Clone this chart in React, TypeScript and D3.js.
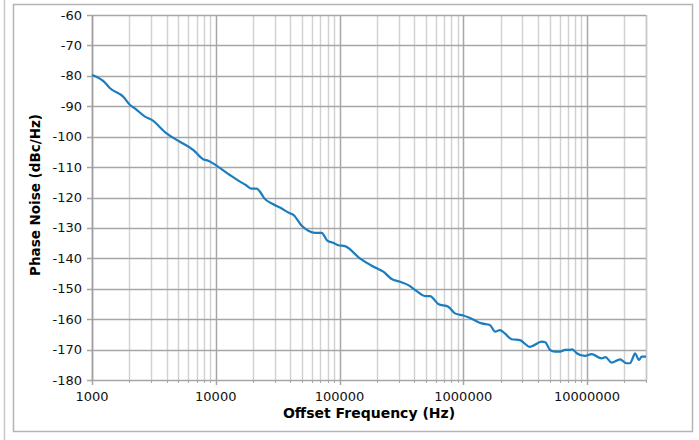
import React from "react";
import * as d3 from "d3";

const freqs = [1000, 1250, 1400, 1790, 2030, 2220, 2680, 3040, 4000, 5100, 6600, 7900, 8700, 10200, 13000, 15700, 17500, 19500, 21400, 22800, 24500, 29200, 33000, 39800, 42400, 49500, 56000, 63400, 71800, 79700, 89100, 97800, 110700, 146000, 187000, 226000, 264000, 308000, 360000, 421000, 491000, 539000, 628000, 757000, 857000, 1000000, 1135000, 1410000, 1640000, 1810000, 1980000, 2170000, 2460000, 2870000, 3460000, 4300000, 4600000, 5020000, 5510000, 6050000, 6640000, 7290000, 7600000, 8260000, 9640000, 10900000, 13100000, 14100000, 15800000, 18500000, 20800000, 22200000, 23700000, 24400000, 26300000, 27700000, 30000000];
const noise = [-79.7, -81.9, -84.1, -86.9, -89.6, -90.7, -93.4, -94.5, -98.9, -101.6, -104.4, -107.4, -107.9, -109.6, -112.6, -114.8, -115.9, -117.1, -117.1, -118.1, -120.1, -122.2, -123.3, -125.2, -125.7, -129.3, -130.9, -131.6, -131.6, -134.2, -134.9, -135.7, -136.0, -140.0, -142.7, -144.4, -146.8, -147.7, -148.8, -150.8, -152.4, -152.4, -155.0, -155.9, -158.1, -158.8, -159.6, -161.4, -161.9, -164.1, -163.6, -164.7, -166.6, -166.9, -169.1, -167.4, -167.6, -170.1, -170.7, -170.7, -170.1, -170.1, -169.9, -171.2, -172.1, -171.5, -172.9, -172.5, -174.3, -173.2, -174.5, -174.5, -172.3, -171.2, -173.4, -172.3, -172.3];

const yTicks = [-60, -70, -80, -90, -100, -110, -120, -130, -140, -150, -160, -170, -180];
const xMajor = [1000, 10000, 100000, 1000000, 10000000];
const xTickLabels = ["1000", "10000", "100000", "1000000", "10000000"];
const yTitle = "Phase Noise (dBc/Hz)";
const xTitle = "Offset Frequency (Hz)";

const W = 699, H = 440;
const L = 92, T = 15, B = 380;

export default function App() {
  const x = d3.scaleLog().domain([1000, 1000 * Math.pow(10, (646 - L) / 123.75)]).range([L, 646]);
  const y = d3.scaleLinear().domain([-180, -60]).range([B, T]);
  const R = 646;
  const minors: number[] = [];
  for (let d = 1000; d < 30000000; d *= 10) {
    for (let k = 2; k <= 9; k++) {
      const v = d * k;
      if (x(v) <= R + 0.5) minors.push(v);
    }
  }
  const line = d3.line<number>().x((_, i) => x(freqs[i])).y((v) => y(v)).curve(d3.curveMonotoneX);
  const font = "Verdana, 'DejaVu Sans', sans-serif";
  return (
    <svg width={W} height={H} style={{ position: "absolute", left: 0, top: 0 }} fontFamily={font}>
      <rect x={0} y={0} width={W} height={H} fill="#fff" />
      <line x1={4.5} y1={0} x2={4.5} y2={H} stroke="#c8c8c8" strokeWidth={1.5} />
      <rect x={13.5} y={4.5} width={679} height={427} fill="#fff" stroke="#b4b4b4" strokeWidth={1.5} />
      {minors.map((v) => (
        <line key={"m" + v} x1={Math.round(x(v)) + 0.5} x2={Math.round(x(v)) + 0.5} y1={T} y2={B} stroke="#d2d2d2" strokeWidth={1.5} />
      ))}
      {xMajor.map((v) => (
        <line key={"M" + v} x1={Math.round(x(v)) + 0.5} x2={Math.round(x(v)) + 0.5} y1={T} y2={B + 5} stroke="#a6a6a6" strokeWidth={1.5} />
      ))}
      {minors.map((v) => (
        <line key={"mt" + v} x1={Math.round(x(v)) + 0.5} x2={Math.round(x(v)) + 0.5} y1={B} y2={B + 3} stroke="#a6a6a6" strokeWidth={1} />
      ))}
      <line x1={R + 0.5} x2={R + 0.5} y1={T} y2={B} stroke="#c8c8c8" strokeWidth={1.5} />
      {yTicks.map((v) => (
        <g key={"y" + v}>
          <line x1={L - 5} x2={R} y1={Math.round(y(v)) + 0.5} y2={Math.round(y(v)) + 0.5} stroke="#a6a6a6" strokeWidth={1.5} />
          <text x={82} y={y(v) + 4.5} textAnchor="end" fontSize={13} fill="#111">{v}</text>
        </g>
      ))}
      <line x1={L + 0.5} x2={L + 0.5} y1={T} y2={B} stroke="#a0a0a0" strokeWidth={1.5} />
      {xMajor.map((v, i) => (
        <text key={"xl" + v} x={x(v)} y={401} textAnchor="middle" fontSize={13} fill="#111">{xTickLabels[i]}</text>
      ))}
      <path d={line(noise) || ""} fill="none" stroke="#1b7dc0" strokeWidth={2.2} strokeLinejoin="round" />
      <text x={369} y={418} textAnchor="middle" fontSize={14} fontWeight="bold" fill="#000">{xTitle}</text>
      <text transform={`translate(40,195) rotate(-90)`} textAnchor="middle" fontSize={13.5} fontWeight="bold" fill="#000">{yTitle}</text>
    </svg>
  );
}
